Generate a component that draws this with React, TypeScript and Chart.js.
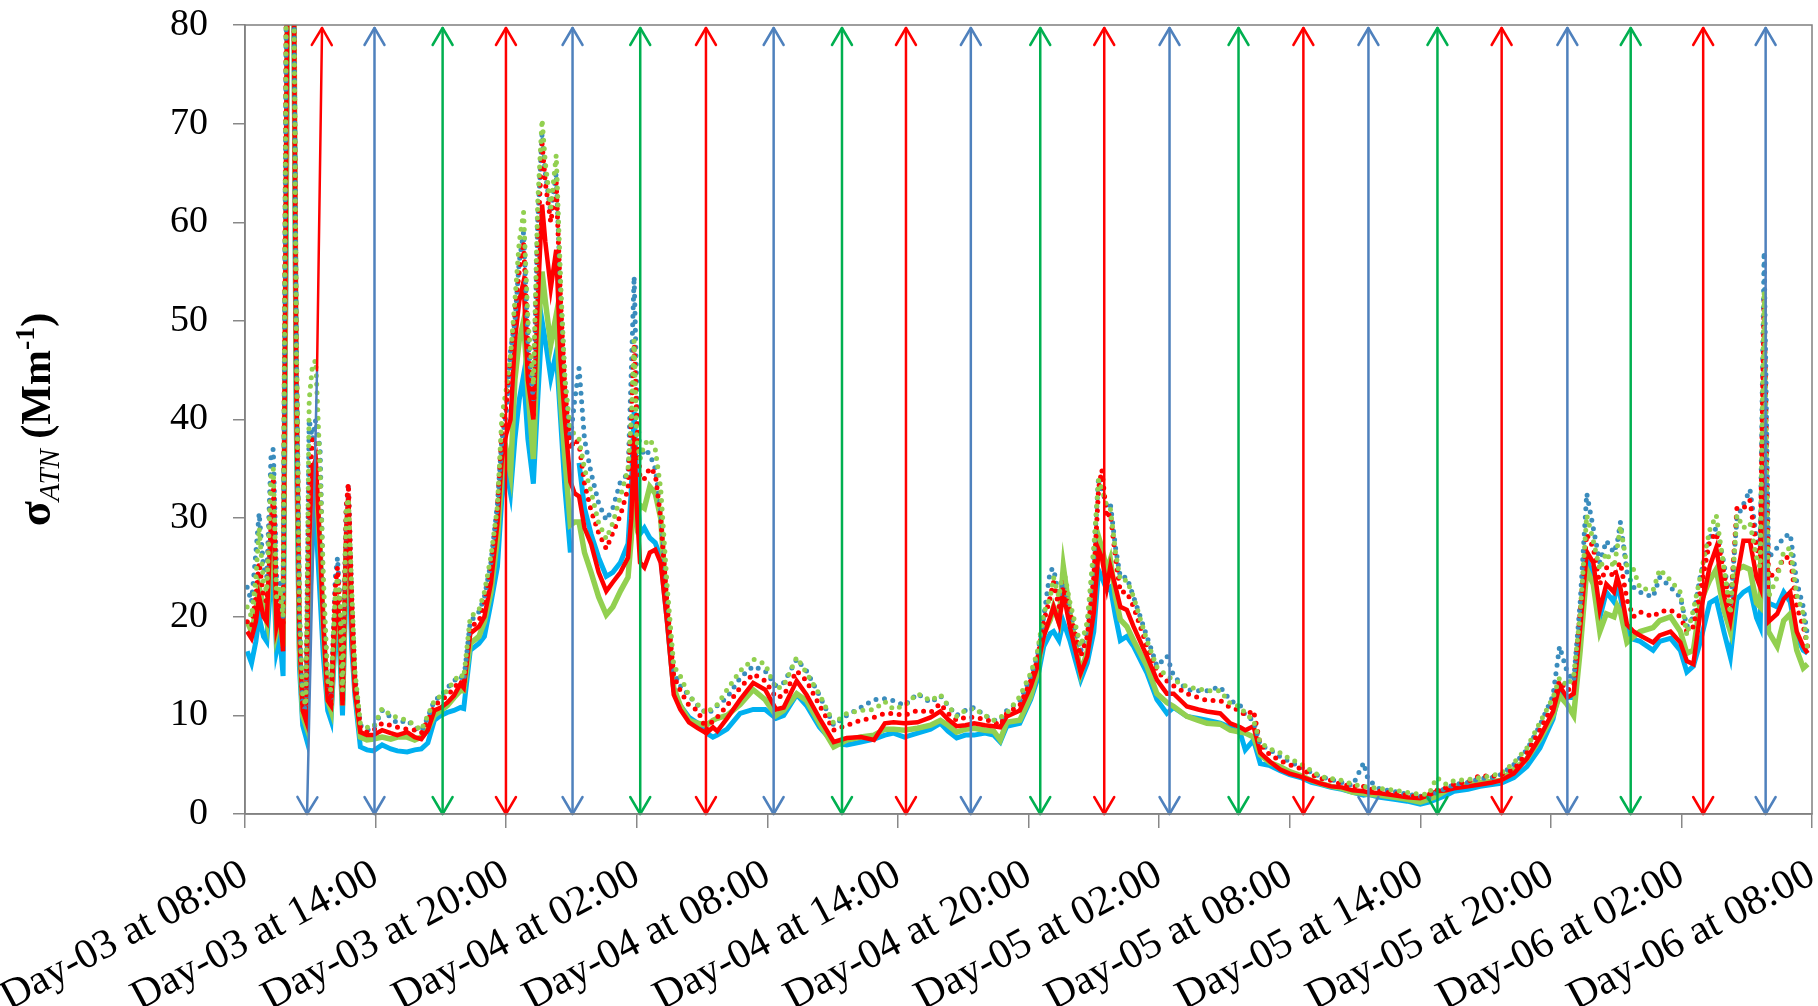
import React, { useEffect, useRef } from "react";
import { Chart, registerables } from "chart.js";

Chart.register(...registerables);

// time in hours since Day-03 08:00
const hours = [
  0.1, 0.3, 0.5, 0.65, 0.85, 1.0, 1.2, 1.3, 1.45, 1.6,
  1.75, 1.9, 2.0, 2.2, 2.35, 2.5, 2.65, 2.8, 2.95, 3.1,
  3.25, 3.45, 3.6, 3.8, 3.95, 4.15, 4.25, 4.38, 4.48, 4.65,
  4.75, 4.9, 5.05, 5.3, 5.6, 5.9, 6.3, 6.7, 7.0, 7.45,
  7.8, 8.1, 8.4, 8.7, 9.0, 9.3, 9.6, 9.9, 10.05, 10.35,
  10.75, 11.0, 11.3, 11.6, 11.8, 12.0, 12.2, 12.4, 12.6, 12.8,
  13.0, 13.25, 13.45, 13.65, 13.8, 14.05, 14.3, 14.5, 14.7, 14.95,
  15.15, 15.35, 15.6, 15.9, 16.25, 16.6, 16.9, 17.25, 17.6, 17.75,
  17.88, 18.0, 18.15, 18.35, 18.6, 18.85, 19.1, 19.4, 19.7, 20.0,
  20.4, 20.8, 21.2, 21.5, 21.7, 22.15, 22.75, 23.35, 23.9, 24.4,
  24.75, 25.35, 25.8, 26.4, 27.05, 27.65, 28.3, 28.9, 29.4, 29.8,
  30.3, 30.9, 31.5, 31.95, 32.3, 32.7, 33.1, 33.5, 34.0, 34.4,
  34.7, 35.0, 35.6, 36.1, 36.4, 36.7, 37.0, 37.15, 37.4, 37.6,
  37.9, 38.4, 38.7, 39.0, 39.22, 39.37, 39.6, 39.76, 40.0, 40.22,
  40.52, 40.83, 41.44, 41.9, 42.36, 42.67, 43.28, 43.8, 44.2, 44.81,
  45.27, 45.73, 45.96, 46.34, 46.65, 47.1, 47.57, 48.0, 48.5, 49.0,
  49.4, 49.9, 50.4, 50.9, 51.4, 51.6, 52.15, 52.8, 53.4, 54.0,
  54.4, 54.75, 55.2, 55.55, 56.2, 56.75, 57.3, 57.7, 58.3, 58.9,
  59.5, 60.1, 60.4, 60.75, 61.05, 61.35, 61.65, 61.95, 62.25, 62.55,
  62.9, 63.05, 63.2, 63.5, 63.8, 64.1, 64.7, 65.0, 65.5, 65.95,
  66.25, 66.55, 66.86, 67.3, 67.6, 67.95, 68.25, 68.55, 68.85, 69.15,
  69.45, 69.62, 69.8, 70.0, 70.4, 70.7, 71.0, 71.3, 71.6, 71.8,
];

const blueSolid = [
  16.5, 15.3, 17.5, 20.0, 18.0, 17.5, 24.0, 25.0, 16.5, 18.0,
  14.0, 60, 100, 100, 40, 15, 9.0, 7.8, 20, 28,
  30, 22, 16, 10.5, 9.5, 18, 20.5, 15, 10, 24,
  27, 17, 12, 6.8, 6.5, 6.4, 7.0, 6.6, 6.4, 6.3,
  6.5, 6.6, 7.2, 9.5, 10.0, 10.3, 10.5, 10.8, 10.7, 16.6,
  17.3, 18.0, 21.4, 25.1, 32.0, 35.0, 32.5, 38.0, 42.0, 44.5,
  38.0, 33.5, 42.0, 50.0, 48.0, 44.2, 46.8, 40.0, 33.0, 26.5,
  null, 35.6, 31.0, 28.4, 26.0, 24.1, 24.5, 25.5, 27.4, 33.0,
  40.8, 34.0, 28.4, 29.0, 28.0, 27.5, 26.0, 19.5, 12.5, 11.0,
  9.8, 9.2, 8.2, 7.8, 8.0, 8.6, 10.2, 10.6, 10.6, 9.7,
  10.0, 12.1, 11.0, 8.8, 7.2, 7.0, 7.3, 7.6, 8.0, 8.2,
  7.8, 8.2, 8.6, 9.2, 8.4, 7.7, 8.0, 8.0, 8.2, 8.0,
  7.3, 8.9, 9.2, 11.6, 13.6, 17.0, 18.3, 18.5, 17.6, 19.5,
  17.6, 13.6, 15.3, 18.5, 24.7, 24.0, 22.7, 23.0, 20.0, 17.6,
  18.0, 17.0, 14.3, 11.6, 10.2, 10.8, 9.9, 9.7, 9.5, 9.2,
  8.8, 8.2, 6.5, 7.5, 5.1, 4.9, 4.4, 4.0, 3.7, 3.2,
  3.0, 2.7, 2.5, 2.2, 1.9, 2.0, 1.7, 1.5, 1.3, 1.0,
  1.2, 1.5, 1.9, 2.3, 2.5, 2.8, 3.0, 3.1, 3.7, 4.8,
  6.7, 9.6, 12.6, 11.8, 11.8, 18.5, 25.9, 24.0, 19.9, 22.5,
  21.5, 23.5, 22.0, 18.5, 17.7, 17.5, 16.6, 17.5, 17.8, 16.6,
  14.4, 15.0, 17.4, 21.4, 21.8, 18.5, 15.9, 21.8, 22.5, 22.9,
  19.9, 19.0, 38, 21.4, 21.0, 22.5, 21.5, 18.0, 16.6, 16.3,
];

const redSolid = [
  18.5, 17.8, 19.5, 22.0, 20.0, 19.5, 30.0, 32.0, 19.0, 20.5,
  16.5, 70, 100, 100, 45, 18, 10.5, 9.5, 28, 35,
  36, 27, 19, 11.5, 11, 20, 22, 18, 11, 29,
  32.5, 19, 12.5, 8.3, 8.0, 8.0, 8.5, 8.2, 8.0, 8.3,
  7.8, 7.6, 8.5, 10.5, 10.8, 11.3, 12.0, 13.2, 12.8, 18.3,
  19.0, 20.0, 23.4, 29.5, 36.0, 38.5, 40.0, 48.0, 52.0, 54.0,
  44.0, 40.0, 52.0, 61.8, 58.0, 53.3, 57.2, 46.0, 40.0, 33.7,
  32.5, 32.2, 29.0, 27.4, 24.5, 22.6, 23.5, 24.5, 26.0, 30.0,
  38.4, 31.0, 25.5, 25.0, 26.5, 26.8, 25.5, 19.3, 12.1, 10.6,
  9.3, 8.7, 8.2, 8.8, 8.4, 9.7, 11.6, 13.3, 12.6, 10.6,
  10.8, 13.5, 12.1, 9.7, 7.3, 7.7, 7.8, 7.5, 9.2, 9.3,
  9.2, 9.3, 9.8, 10.4, 9.6, 8.9, 9.0, 9.2, 9.0, 8.9,
  8.8, 9.9, 10.5, 12.9, 14.9, 18.0, 20.0, 21.0, 19.3, 22.4,
  19.0, 14.3, 16.0, 20.4, 26.8, 26.0, 23.0, 25.1, 23.0, 21.0,
  20.7, 19.0, 16.0, 13.6, 12.2, 12.2, 10.9, 10.6, 10.4, 10.2,
  9.2, 8.8, 8.5, 8.9, 6.2, 5.3, 4.5, 4.1, 3.8, 3.4,
  3.1, 2.8, 2.7, 2.4, 2.3, 2.2, 2.1, 1.9, 1.7, 1.6,
  1.9, 2.3, 2.4, 2.6, 2.8, 3.0, 3.2, 3.4, 4.1, 5.6,
  7.8, 10.4, 13.0, 11.8, 12.2, 18.9, 26.6, 25.5, 20.7, 23.3,
  22.5, 24.0, 22.9, 19.2, 18.5, 18.1, 17.4, 18.1, 18.5, 17.4,
  15.5, 15.2, 20.3, 25.1, 27.0, 22.2, 19.6, 24.0, 27.7, 27.7,
  24.0, 23.0, 44, 19.5, 20.3, 21.8, 22.5, 18.5, 17.0, 16.3,
];

const greenSolid = [
  19.5, 18.5, 20.5, 23.0, 21.0, 19.5, 28.0, 30.0, 18.5, 20.0,
  17.0, 65, 100, 100, 45, 17, 10.0, 9.0, 26, 33,
  34, 27, 19, 11.5, 10.5, 20, 21, 18, 11, 27,
  29.5, 20, 13, 7.8, 7.5, 7.6, 7.8, 7.6, 7.8, 7.8,
  7.5, 7.8, 8.6, 10.0, 10.5, 11.0, 11.8, 12.5, 12.5, 17.3,
  18.0, 19.5, 22.5, 28.0, 34.5, 37.0, 34.5, 44.0, 48.0, 50.0,
  43.0, 36.0, 48.0, 55.0, 52.0, 47.6, 50.6, 42.0, 36.0, 29.3,
  29.6, 29.6, 26.5, 24.5, 22.0, 20.2, 21.0, 22.6, 24.0, 28.0,
  33.7, 30.0, 31.3, 31.0, 33.2, 32.5, 30.0, 20.0, 12.8, 11.0,
  9.5, 9.2, 9.0, 9.5, 9.7, 10.0, 11.1, 12.6, 11.6, 10.0,
  10.5, 12.2, 11.5, 9.2, 6.8, 7.5, 7.8, 8.0, 8.6, 8.6,
  8.5, 8.7, 9.0, 9.5, 9.0, 8.3, 8.6, 8.7, 8.5, 8.4,
  7.5, 9.3, 9.5, 11.9, 14.3, 18.3, 19.7, 21.0, 19.5, 25.1,
  20.4, 14.3, 16.5, 21.0, 28.1, 27.0, 24.7, 25.8, 22.0, 19.7,
  19.0, 17.6, 15.0, 12.2, 11.3, 10.9, 9.9, 9.5, 9.2, 9.1,
  8.5, 8.3, 8.2, 7.8, 6.0, 5.2, 4.8, 4.3, 3.9, 3.4,
  3.1, 2.8, 2.6, 2.2, 2.1, 2.0, 1.9, 1.7, 1.5, 1.2,
  1.5, 1.8, 2.4, 2.8, 3.0, 3.2, 3.3, 3.4, 4.5, 5.6,
  7.6, 10.0, 12.0, 11.1, 10.0, 16.6, 24.8, 23.3, 18.5, 20.3,
  20.0, 21.1, 20.5, 17.4, 18.0, 18.5, 18.9, 19.6, 20.0, 18.5,
  16.3, 16.6, 21.4, 23.7, 24.8, 20.7, 18.5, 24.8, 25.1, 24.8,
  21.4, 21.0, 41, 18.5, 17.0, 19.6, 20.3, 16.6, 14.8, 15.2,
];

const blueDotted = [
  23.0, 21.5, 26.5, 30.5, 25.0, 24.0, 36.5, 37.0, 24.0, 23.5,
  20.0, 85, 100, 100, 50, 20, 11.0, 10.5, 40, 38,
  40, 37, 22, 13, 11.5, 24, 26, 21, 12, 31,
  33.5, 22, 14, 9.0, 8.5, 8.7, 10.5, 9.8, 9.2, 9.5,
  8.8, 8.4, 9.8, 11.5, 12.0, 12.8, 13.5, 14.0, 13.5, 19.5,
  20.5, 22.0, 25.5, 31.5, 38.0, 40.5, 47.0, 50.0, 56.0, 59.0,
  48.0, 42.0, 60.0, 69.0, 65.0, 61.0, 65.0, 53.0, 44.0, 38.0,
  42.0, 45.2, 38.0, 34.6, 31.5, 29.8, 31.0, 33.7, 34.5, 45.0,
  54.5, 43.0, 36.0, 37.0, 36.5, 35.0, 31.0, 22.0, 14.5, 13.0,
  12.0, 11.0, 10.2, 10.5, 11.0, 11.8, 13.8, 15.0, 14.5, 13.0,
  13.3, 15.7, 14.5, 12.0, 9.0, 10.0, 10.8, 11.6, 11.7, 11.5,
  11.0, 12.2, 11.3, 12.0, 11.0, 10.0, 10.5, 10.8, 10.0, 9.5,
  9.5, 10.5, 11.5, 14.0, 16.0, 20.0, 24.7, 24.9, 22.0, 23.5,
  21.0, 16.5, 19.0, 26.0, 34.2, 33.0, 31.2, 31.5, 27.0, 24.0,
  24.0, 22.0, 18.0, 15.0, 16.0, 14.0, 12.6, 12.5, 12.5, 12.9,
  11.5, 11.0, 10.0, 9.5, 7.0, 6.5, 5.8, 5.3, 4.8, 4.2,
  3.8, 3.5, 3.2, 2.9, 5.2, 3.5, 2.5, 2.3, 2.0, 1.8,
  1.6, 2.2, 2.6, 3.0, 3.2, 3.6, 3.7, 4.0, 5.0, 6.5,
  9.0, 12.0, 17.0, 14.4, 13.5, 21.5, 32.5, 29.0, 25.5, 27.7,
  26.5, 27.5, 29.6, 24.5, 23.0, 22.5, 22.0, 24.0, 23.0, 22.0,
  19.0, 20.0, 24.0, 28.0, 29.0, 25.5, 21.0, 30.0, 31.4, 32.9,
  28.0, 27.0, 57, 26.0, 27.0, 28.1, 28.4, 23.5, 21.0, 18.0,
];

const redDotted = [
  19.5, 19.0, 22.0, 25.5, 22.0, 21.5, 33.0, 34.0, 21.0, 22.0,
  19.0, 85, 100, 100, 50, 20, 10.5, 10.0, 33, 38,
  38, 33, 22, 12.5, 11, 23, 25, 20, 11.5, 31,
  33.5, 22, 13.5, 8.8, 8.3, 8.5, 9.2, 9.0, 8.8, 8.6,
  8.5, 8.2, 9.5, 11.0, 11.5, 12.0, 12.8, 13.5, 13.0, 19.0,
  19.5, 21.5, 25.0, 31.0, 39.0, 41.5, 46.0, 51.0, 55.0, 58.0,
  48.0, 40.5, 58.0, 68.0, 64.0, 60.0, 64.0, 52.0, 43.0, 37.0,
  38.0, 37.5, 33.5, 30.8, 28.5, 26.9, 28.5, 30.3, 33.0, 40.0,
  47.6, 40.0, 34.0, 34.0, 35.1, 34.5, 30.0, 21.0, 14.0, 12.5,
  11.0, 10.5, 8.5, 9.5, 9.8, 11.0, 12.8, 14.2, 13.5, 11.8,
  12.0, 14.5, 13.5, 11.0, 8.5, 9.0, 9.5, 9.8, 10.2, 10.2,
  10.0, 10.5, 10.3, 11.2, 10.2, 9.5, 9.8, 9.8, 9.6, 9.3,
  9.0, 10.2, 11.0, 13.5, 15.5, 19.5, 22.0, 23.5, 21.0, 23.0,
  20.5, 16.0, 18.0, 24.0, 33.0, 34.9, 30.0, 30.5, 26.0, 22.5,
  22.5, 21.0, 17.0, 14.5, 13.5, 13.0, 12.2, 11.8, 11.5, 11.5,
  10.8, 10.5, 10.0, 10.5, 7.0, 6.0, 5.4, 5.0, 4.6, 4.0,
  3.6, 3.4, 3.0, 2.8, 2.8, 2.6, 2.3, 2.1, 1.9, 1.7,
  2.0, 2.4, 2.7, 3.0, 3.3, 3.9, 3.8, 4.0, 4.5, 6.2,
  8.5, 11.0, 13.5, 12.5, 13.0, 20.5, 28.4, 27.0, 23.3, 25.0,
  24.0, 25.0, 25.5, 21.7, 20.0, 20.5, 20.0, 20.5, 20.7, 20.0,
  18.5, 19.0, 22.5, 27.7, 28.5, 24.5, 21.0, 31.0, 31.0, 31.8,
  27.0, 26.0, 52, 24.0, 24.5, 26.0, 26.0, 21.0, 19.0, 17.0,
];

const greenDotted = [
  21.0, 20.0, 24.0, 29.0, 23.5, 22.5, 34.5, 35.0, 22.0, 23.0,
  20.0, 85, 100, 100, 50, 21, 12.0, 11.0, 42, 45.5,
  46, 35, 24, 13.5, 12.5, 22.5, 24, 21, 12.5, 31,
  32, 23, 14.5, 9.2, 8.8, 8.8, 10.7, 10.0, 9.8, 9.5,
  9.0, 8.5, 10.0, 11.5, 12.0, 12.5, 13.5, 14.2, 13.8, 20.0,
  20.7, 22.5, 26.1, 31.2, 40.3, 43.0, 46.5, 52.0, 58.0, 61.0,
  50.0, 43.5, 62.0, 70.4, 66.0, 61.5, 66.8, 54.0, 44.0, 39.0,
  38.5, 38.0, 35.0, 32.7, 29.5, 27.9, 29.5, 32.2, 35.0, 40.0,
  48.0, 38.0, 36.0, 37.5, 38.0, 37.0, 33.0, 23.0, 15.0, 14.0,
  12.0, 11.1, 10.2, 10.8, 11.1, 12.6, 14.5, 15.7, 15.2, 12.7,
  13.0, 15.9, 14.3, 12.1, 9.2, 10.2, 10.5, 10.6, 11.4, 10.6,
  11.0, 12.2, 11.5, 12.1, 11.0, 9.9, 10.5, 10.7, 10.0, 9.5,
  9.8, 10.2, 11.9, 14.3, 16.3, 20.4, 22.0, 24.0, 22.0, 25.0,
  21.5, 17.0, 19.5, 27.1, 33.9, 33.0, 31.2, 31.0, 26.5, 23.7,
  23.7, 22.0, 17.6, 14.9, 14.0, 13.6, 12.9, 12.7, 12.5, 12.5,
  11.2, 10.9, 10.2, 9.5, 7.2, 6.6, 6.2, 5.6, 5.1, 4.4,
  3.8, 3.6, 3.4, 3.0, 2.8, 2.7, 2.6, 2.4, 2.2, 2.0,
  2.0, 3.7, 3.0, 3.4, 3.5, 3.7, 3.9, 4.1, 5.2, 6.7,
  9.3, 11.8, 13.8, 13.0, 14.0, 20.3, 30.3, 27.7, 24.8, 26.5,
  25.0, 27.0, 29.2, 25.1, 24.8, 22.9, 22.7, 24.8, 23.7, 22.5,
  18.1, 20.7, 24.0, 28.8, 30.3, 25.1, 20.3, 30.3, 29.0, 29.5,
  26.0, 25.0, 53, 22.0, 24.0, 26.6, 27.0, 22.2, 20.3, 16.6,
];

const xTickLabels = [
  "Day-03 at 08:00", "Day-03 at 14:00", "Day-03 at 20:00", "Day-04 at 02:00",
  "Day-04 at 08:00", "Day-04 at 14:00", "Day-04 at 20:00", "Day-05 at 02:00",
  "Day-05 at 08:00", "Day-05 at 14:00", "Day-05 at 20:00", "Day-06 at 02:00",
  "Day-06 at 08:00",
];

// sampling-period arrows (hours since start)
const arrowHours = [
  5.95, 9.08, 11.99, 15.05, 18.16, 21.18, 24.29, 27.43, 30.37, 33.35, 36.54,
  39.48, 42.48, 45.65, 48.63, 51.62, 54.79, 57.74, 60.76, 63.67, 67.0, 69.87,
];
const arrowColors = [
  "blue", "green", "red", "blue", "green", "red", "blue", "green", "red", "blue", "green",
  "red", "blue", "green", "red", "blue", "green", "red", "blue", "green", "red", "blue",
];
// first (slanted) arrow: blue lower part, red upper part
const firstArrowBottomHour = 2.85;
const firstArrowSplitHour = 3.31;
const firstArrowSplitValue = 45;
const firstArrowTopHour = 3.54;

const ARROW_COL: Record<string, string> = { red: "#FF0000", blue: "#4F81BD", green: "#00B050" };
const SERIF = "'Liberation Serif', 'Times New Roman', serif";

function head(ctx: CanvasRenderingContext2D, tx: number, ty: number, fx: number, fy: number) {
  const dx = tx - fx, dy = ty - fy;
  const d = Math.hypot(dx, dy) || 1;
  const ux = dx / d, uy = dy / d;
  const nx = -uy, ny = ux;
  const len = 17, half = 10;
  const bx = tx - ux * len, by = ty - uy * len;
  ctx.beginPath();
  ctx.moveTo(bx + nx * half, by + ny * half);
  ctx.lineTo(tx, ty);
  ctx.lineTo(bx - nx * half, by - ny * half);
  ctx.stroke();
}

const arrowPlugin = {
  id: "arrows",
  afterDatasetsDraw(chart: any) {
    const { ctx } = chart;
    const x = chart.scales.x, y = chart.scales.y;
    const yTop = y.getPixelForValue(80) + 3;
    const yBot = y.getPixelForValue(0);
    ctx.save();
    ctx.lineWidth = 2.5;
    ctx.lineCap = "round";
    ctx.lineJoin = "round";
    arrowHours.forEach((h, i) => {
      const px = x.getPixelForValue(h);
      ctx.strokeStyle = ARROW_COL[arrowColors[i]];
      ctx.beginPath();
      ctx.moveTo(px, yTop);
      ctx.lineTo(px, yBot);
      ctx.stroke();
      head(ctx, px, yTop, px, yBot);
      head(ctx, px, yBot, px, yTop);
    });
    const bx = x.getPixelForValue(firstArrowBottomHour);
    const sx = x.getPixelForValue(firstArrowSplitHour);
    const sy = y.getPixelForValue(firstArrowSplitValue);
    const tx = x.getPixelForValue(firstArrowTopHour);
    ctx.strokeStyle = ARROW_COL.blue;
    ctx.beginPath();
    ctx.moveTo(bx, yBot);
    ctx.lineTo(sx, sy);
    ctx.stroke();
    head(ctx, bx, yBot, sx, sy);
    ctx.strokeStyle = ARROW_COL.red;
    ctx.beginPath();
    ctx.moveTo(sx, sy);
    ctx.lineTo(tx, yTop);
    ctx.stroke();
    head(ctx, tx, yTop, sx, sy);
    ctx.restore();
  },
};

const framePlugin = {
  id: "frame",
  afterDraw(chart: any) {
    const { ctx, chartArea: a } = chart;
    ctx.save();
    ctx.strokeStyle = "#7F7F7F";
    ctx.lineWidth = 1.5;
    ctx.strokeRect(a.left, a.top, a.right - a.left, a.bottom - a.top);
    ctx.restore();
  },
};

const yTitlePlugin = {
  id: "yTitle",
  afterDraw(chart: any) {
    const { ctx, chartArea: a } = chart;
    const parts = [
      { t: "σ", f: `bold 46px ${SERIF}`, dy: 0 },
      { t: "ATN", f: `italic 29px ${SERIF}`, dy: 9 },
      { t: " (Mm", f: `bold 42px ${SERIF}`, dy: 0 },
      { t: "-1", f: `bold 28px ${SERIF}`, dy: -16 },
      { t: ")", f: `bold 42px ${SERIF}`, dy: 0 },
    ];
    ctx.save();
    let total = 0;
    const widths = parts.map((p) => {
      ctx.font = p.f;
      const w = ctx.measureText(p.t).width;
      total += w;
      return w;
    });
    ctx.translate(50, (a.top + a.bottom) / 2);
    ctx.rotate(-Math.PI / 2);
    ctx.fillStyle = "#000";
    ctx.textBaseline = "alphabetic";
    ctx.textAlign = "left";
    let cx = -total / 2;
    parts.forEach((p, i) => {
      ctx.font = p.f;
      ctx.fillText(p.t, cx, p.dy);
      cx += widths[i];
    });
    ctx.restore();
  },
};

function makeData(vals: (number | null)[]) {
  return hours.map((h, i) => ({ x: h, y: vals[i] }));
}

export default function App() {
  const ref = useRef<HTMLCanvasElement>(null);
  useEffect(() => {
    const solid = (label: string, vals: (number | null)[], color: string, order: number, w: number) => ({
      label,
      data: makeData(vals),
      borderColor: color,
      backgroundColor: color,
      borderWidth: w,
      pointRadius: 0,
      tension: 0,
      spanGaps: false,
      order,
      clip: 0,
    });
    const dotted = (label: string, vals: (number | null)[], color: string, order: number) => ({
      label,
      data: makeData(vals),
      borderColor: color,
      backgroundColor: color,
      borderWidth: 5,
      borderDash: [0, 8.5],
      borderCapStyle: "round" as const,
      pointRadius: 0,
      tension: 0,
      spanGaps: false,
      order,
      clip: 0,
    });
    const chart = new Chart(ref.current!, {
      type: "line",
      data: {
        datasets: [
          solid("blue", blueSolid, "#00B0F0", 6, 5),
          solid("green", greenSolid, "#92D050", 5, 5.5),
          solid("red", redSolid, "#FF0000", 4, 4.5),
          dotted("blue dotted", blueDotted, "#3A8CBD", 3),
          dotted("red dotted", redDotted, "#FF0000", 2),
          dotted("green dotted", greenDotted, "#92D050", 1),
        ] as any,
      },
      options: {
        responsive: false,
        animation: false,
        devicePixelRatio: 1,
        layout: { padding: { top: 25, right: 6, left: 0, bottom: 0 } },
        plugins: { legend: { display: false }, tooltip: { enabled: false } },
        elements: { point: { radius: 0 } },
        scales: {
          x: {
            type: "linear",
            min: 0,
            max: 72,
            afterFit: (s: any) => {
              s.height = 192;
              s.paddingLeft = 0;
              s.paddingRight = 0;
            },
            ticks: {
              stepSize: 6,
              autoSkip: false,
              minRotation: 28,
              maxRotation: 28,
              padding: 22,
              color: "#000",
              font: { family: SERIF, size: 42 },
              callback: (v: any) => xTickLabels[Math.round(Number(v) / 6)] ?? "",
            },
            grid: { drawOnChartArea: false, drawTicks: true, tickLength: 14, color: "#888", lineWidth: 1.5 },
            border: { display: true, color: "#888", width: 1.5 },
          },
          y: {
            min: 0,
            max: 80,
            afterFit: (s: any) => {
              s.width = 245;
              s.paddingTop = 0;
              s.paddingBottom = 0;
            },
            ticks: {
              stepSize: 10,
              padding: 25,
              color: "#000",
              font: { family: SERIF, size: 38 },
            },
            grid: { drawOnChartArea: false, drawTicks: true, tickLength: 12, color: "#888", lineWidth: 1.5 },
            border: { display: true, color: "#888", width: 1.5 },
          },
        },
      } as any,
      plugins: [arrowPlugin, framePlugin, yTitlePlugin],
    });
    return () => chart.destroy();
  }, []);
  return (
    <div style={{ position: "fixed", left: 0, top: 0, width: 1818, height: 1006, background: "#fff" }}>
      <canvas ref={ref} width={1818} height={1006} style={{ display: "block" }} />
    </div>
  );
}
